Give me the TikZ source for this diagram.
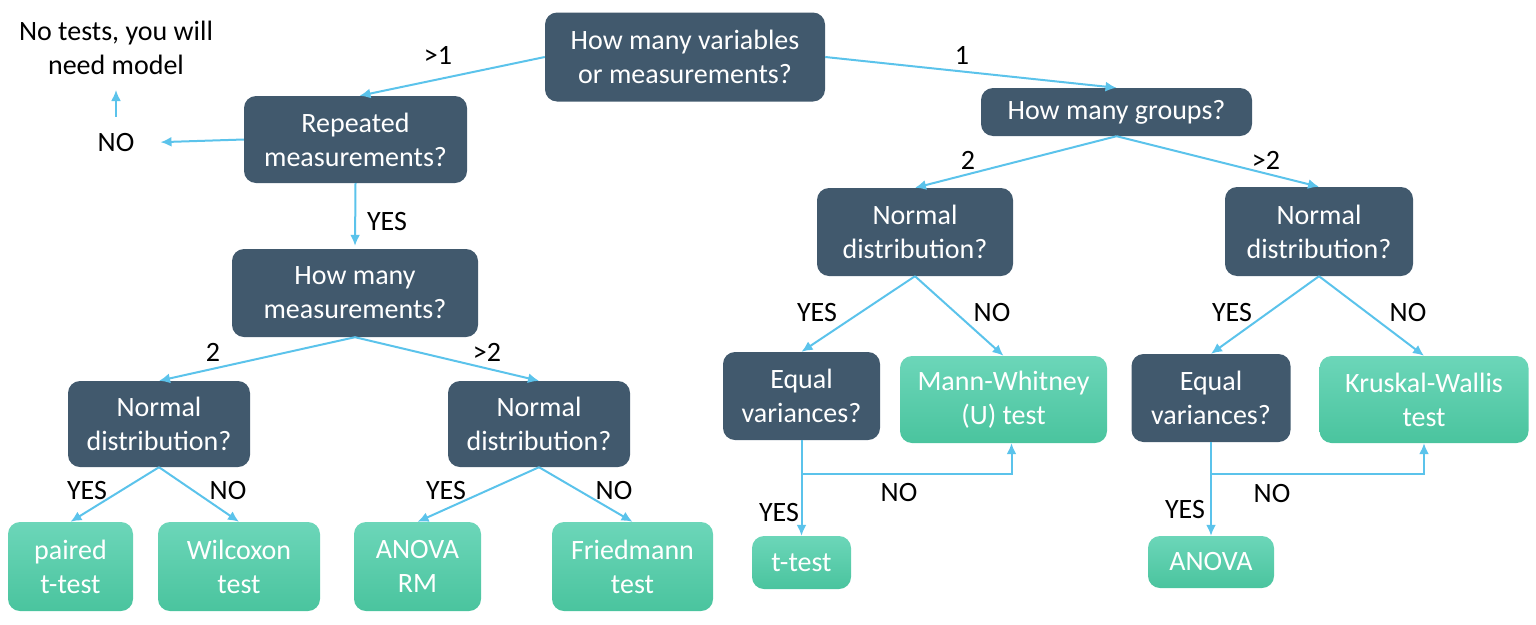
\documentclass[tikz,border=0pt]{standalone}
\usepackage{fontspec}
\setmainfont{Carlito}
\usepackage{tikz}
\usetikzlibrary{arrows.meta, positioning, calc}
\definecolor{slate}{RGB}{65,89,109}
\definecolor{gtop}{RGB}{108,214,185}
\definecolor{gbot}{RGB}{74,196,158}
\definecolor{arr}{RGB}{91,195,235}
\newcommand{\boxfont}{\fontsize{28}{34}\selectfont}

\begin{document}
\begin{tikzpicture}[
    x=1pt, y=-1pt,
    qbox/.style={rectangle, rounded corners=12pt, fill=slate, text=white, align=center, font=\boxfont, inner sep=0pt},
    testbox/.style={rectangle, rounded corners=12pt, top color=gtop, bottom color=gbot, text=white, align=center, font=\boxfont, inner sep=0pt},
    lbl/.style={font=\boxfont, inner sep=0pt, align=center},
    arrow/.style={-{Latex[length=11pt, width=10pt]}, line width=2pt, color=arr}]
    \useasboundingbox (0,0) rectangle (1536,624);
    % Nodes
    \node[qbox, minimum width=280pt, minimum height=89pt] (vars) at (685,57) {How many variables\\or measurements?};
    \node[qbox, minimum width=223pt, minimum height=87pt] (rep) at (355.5,139.5) {Repeated\\measurements?};
    \node[lbl] (no) at (116,143) {NO};
    \node[lbl] (model) at (116,48) {No tests, you will\\need model};
    \node[qbox, minimum width=246pt, minimum height=88pt] (meas) at (355,293) {How many\\measurements?};
    \node[qbox, minimum width=182pt, minimum height=86pt] (nda) at (159,424) {Normal\\distribution?};
    \node[qbox, minimum width=182pt, minimum height=86pt] (ndb) at (539,424) {Normal\\distribution?};
    \node[testbox, minimum width=125pt, minimum height=89pt] (paired) at (70.5,566.5) {paired\\t-test};
    \node[testbox, minimum width=162pt, minimum height=89pt] (wilc) at (239,566.5) {Wilcoxon\\test};
    \node[testbox, minimum width=127pt, minimum height=89pt] (anrm) at (417.5,566.5) {ANOVA\\RM};
    \node[testbox, minimum width=161pt, minimum height=89pt] (fried) at (632.5,566.5) {Friedmann\\test};
    \node[qbox, minimum width=271pt, minimum height=48pt] (groups) at (1116.5,112) {How many groups?};
    \node[qbox, minimum width=196pt, minimum height=88pt] (ndc) at (915,232) {Normal\\distribution?};
    \node[qbox, minimum width=188pt, minimum height=89pt] (ndd) at (1319,231.5) {Normal\\distribution?};
    \node[qbox, minimum width=157pt, minimum height=88pt] (eqa) at (801.5,396) {Equal\\variances?};
    \node[testbox, minimum width=207pt, minimum height=87pt] (mw) at (1003.5,399.5) {Mann-Whitney\\(U) test};
    \node[qbox, minimum width=159pt, minimum height=88pt] (eqb) at (1211,398) {Equal\\variances?};
    \node[testbox, minimum width=209pt, minimum height=87pt] (kw) at (1424,399.5) {Kruskal-Wallis\\test};
    \node[testbox, minimum width=99pt, minimum height=53pt] (ttest) at (801.5,562.5) {t-test};
    \node[testbox, minimum width=126pt, minimum height=52pt] (anova) at (1211,562) {ANOVA};
    \coordinate (bra) at (eqa.south |- 0,474);
    \coordinate (brb) at (eqb.south |- 0,474);

    % Labels
    \node[lbl] (lmore) at (438,55) {>1};
    \node[lbl] (lone) at (962,55) {1};
    \node[lbl] (lrep) at (387,222) {YES};
    \node[lbl] (lmtwo) at (213,352) {2};
    \node[lbl] (lmmore) at (487,352) {>2};
    \node[lbl] (lay) at (87,491) {YES};
    \node[lbl] (lan) at (228,491) {NO};
    \node[lbl] (lby) at (446,491) {YES};
    \node[lbl] (lbn) at (614,491) {NO};
    \node[lbl] (lgtwo) at (968,160) {2};
    \node[lbl] (lgmore) at (1266,160) {>2};
    \node[lbl] (lcy) at (817,313) {YES};
    \node[lbl] (lcn) at (992,313) {NO};
    \node[lbl] (ldy) at (1232,313) {YES};
    \node[lbl] (ldn) at (1408,313) {NO};
    \node[lbl] (lean) at (899,493) {NO};
    \node[lbl] (leay) at (779,513) {YES};
    \node[lbl] (lebn) at (1272,494) {NO};
    \node[lbl] (leby) at (1185,510) {YES};

    % Arrows
    \draw[arrow] (vars.west) -- ([xshift=4pt]rep.north);
    \draw[arrow] (vars.east) -- (groups.north);
    \draw[arrow, shorten >=26pt] (rep.west) -- (no.east);
    \draw[arrow, shorten <=17pt, shorten >=15pt] (no) -- (model);
    \draw[arrow, shorten >=3pt] (rep.south) -- (meas.north);
    \draw[arrow] (meas.south) -- (nda.north);
    \draw[arrow] (meas.south) -- (ndb.north);
    \draw[arrow] (nda.south) -- (paired.north);
    \draw[arrow] (nda.south) -- (wilc.north);
    \draw[arrow] (ndb.south) -- (anrm.north);
    \draw[arrow] (ndb.south) -- (fried.north);
    \draw[arrow] (groups.south) -- (ndc.north);
    \draw[arrow] (groups.south) -- (ndd.north);
    \draw[arrow] (ndc.south) -- (eqa.north);
    \draw[arrow] (ndc.south) -- (mw.north);
    \draw[arrow] (ndd.south) -- (eqb.north);
    \draw[arrow] (ndd.south) -- (kw.north);
    \draw[arrow] (eqa.south) -- (ttest.north);
    \draw[arrow] (bra) -| ([xshift=8pt]mw.south);
    \draw[arrow] (eqb.south) -- (anova.north);
    \draw[arrow] (brb) -| (kw.south);

\end{tikzpicture}
\end{document}
